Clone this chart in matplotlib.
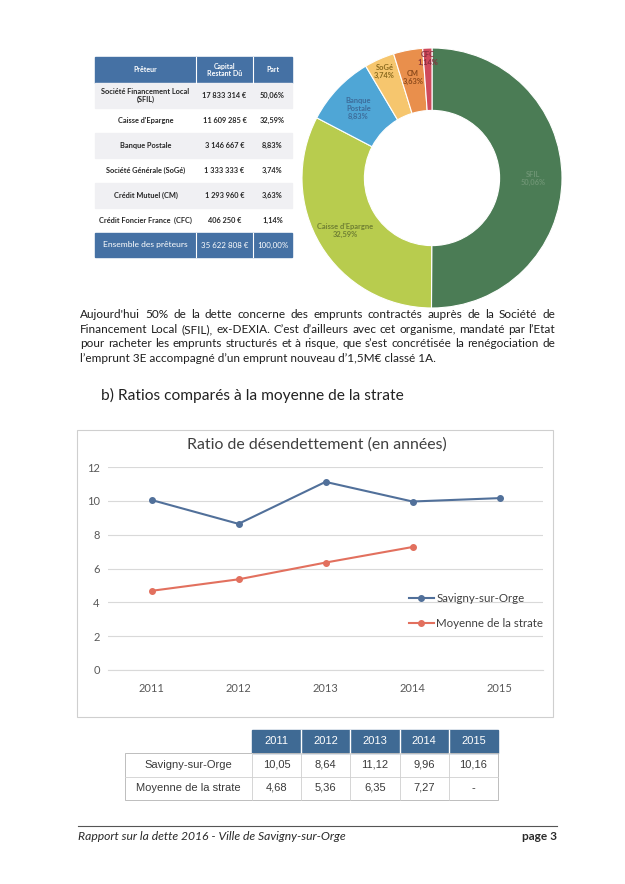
import matplotlib
matplotlib.use("Agg")
import matplotlib.pyplot as plt
from matplotlib.patches import Rectangle
import numpy as np

W, H = 625, 884
plt.rcParams['font.family'] = ['Lato', 'DejaVu Sans']

# --- data: top table / donut
preteurs = ["Société Financement Local\n(SFIL)", "Caisse d'Epargne", "Banque Postale",
            "Société Générale (SoGé)", "Crédit Mutuel (CM)", "Crédit Foncier France  (CFC)"]
capital = [17833314, 11609285, 3146667, 1333333, 1293960, 406250]
parts = [50.06, 32.59, 8.83, 3.74, 3.63, 1.14]
total_capital = 35622808
total_part = 100.00
donut_labels = ["SFIL", "Caisse d'Epargne", "Banque\nPostale", "SoGé", "CM", "CFC"]

# --- data: ratio de desendettement
annees = ["2011", "2012", "2013", "2014", "2015"]
savigny = [10.05, 8.64, 11.12, 9.96, 10.16]
strate = [4.68, 5.36, 6.35, 7.27, None]

paragraph = [
    "Aujourd'hui 50% de la dette concerne des emprunts contractés auprès de la Société de",
    "Financement Local (SFIL), ex-DEXIA. C’est d’ailleurs avec cet organisme, mandaté par l’Etat",
    "pour racheter les emprunts structurés et à risque, que s’est concrétisée la renégociation de",
    "l’emprunt 3E accompagné d’un emprunt nouveau d’1,5M€ classé 1A.",
]


def euro(v):
    return f"{v:,}".replace(",", " ") + " €"


def pct(v):
    return f"{v:.2f}".replace(".", ",") + "%"


def dec(v):
    return "-" if v is None else f"{v:.2f}".replace(".", ",")


fig = plt.figure(figsize=(W / 100, H / 100), dpi=100)
fig.patch.set_facecolor("white")
page = fig.add_axes([0, 0, 1, 1])
page.set_xlim(0, W)
page.set_ylim(H, 0)
page.axis("off")
renderer = fig.canvas.get_renderer()


def box(x0, y0, x1, y1):
    return [x0 / W, 1 - y1 / H, (x1 - x0) / W, (y1 - y0) / H]


def twidth(t):
    return t.get_window_extent(renderer).width


def fit(x, y, s, width, ha="left", **kw):
    # size the text so it covers the same width as on the scan
    t = page.text(x, y, s, fontsize=10, ha=ha, va="center", **kw)
    t.set_fontsize(10 * width / twidth(t))
    return t


def justify(line, x0, x1, y, fs):
    words = line.split()
    ts = [page.text(x0, y, w, fontsize=fs, va="center", color="#1e1e1e") for w in words]
    ws = [twidth(t) for t in ts]
    gap = (x1 - x0 - sum(ws)) / (len(ws) - 1)
    x = x0
    for t, w in zip(ts, ws):
        t.set_x(x)
        x += w + gap


# --- top table
blue = "#4571a4"
cols = [95, 196, 253, 292]
page.add_patch(Rectangle((95, 57), 197, 26, color=blue))
for cx in cols[1:-1]:
    page.plot([cx, cx], [57, 83], color="white", lw=0.8)
heads = ["Prêteur", "Capital\nRestant Dû", "Part"]
for i, h in enumerate(heads):
    page.text((cols[i] + cols[i + 1]) / 2, 70, h, ha="center", va="center",
              fontsize=5.0, color="white", fontweight="bold", linespacing=1.1)
row_h = 25
for r, (p, c, pa) in enumerate(zip(preteurs, capital, parts)):
    y0 = 83 + r * row_h
    if r % 2 == 0:
        page.add_patch(Rectangle((95, y0), 197, row_h, color="#f0f0f3"))
    yc = y0 + row_h / 2
    vals = [p, euro(c), pct(pa)]
    for i, v in enumerate(vals):
        page.text((cols[i] + cols[i + 1]) / 2, yc, v, ha="center", va="center",
                  fontsize=5.3, color="#262626", fontweight="bold", linespacing=1.1)
y0 = 83 + 6 * row_h
page.add_patch(Rectangle((95, y0), 197, 24, color=blue))
for cx in cols[1:-1]:
    page.plot([cx, cx], [y0, y0 + 24], color="white", lw=0.8)
tot = ["Ensemble des prêteurs", euro(total_capital), pct(total_part)]
for i, v in enumerate(tot):
    page.text((cols[i] + cols[i + 1]) / 2, y0 + 12, v, ha="center", va="center",
              fontsize=6.1 if i == 0 else 5.7, color="white")

# --- donut
donut_colors = ["#4b7c55", "#b8cc4e", "#4fa6d6", "#f6c66e", "#e98f4c", "#cf4a5c"]
label_colors = ["#6d9473", "#6f7f33", "#3d6d9b", "#8a6a1e", "#8c4a1c", "#8a2e3e"]
label_r = [0.78, 0.78, 0.78, 0.9, 0.79, 0.92]
dax = fig.add_axes(box(302, 48, 562, 308))
wedges, _ = dax.pie(parts, colors=donut_colors, startangle=90, counterclock=False,
                    radius=1, wedgeprops=dict(width=0.48, edgecolor="white", linewidth=0.8))
dax.set_xlim(-1, 1)
dax.set_ylim(-1, 1)
for w, lab, p, r, c in zip(wedges, donut_labels, parts, label_r, label_colors):
    a = np.deg2rad((w.theta1 + w.theta2) / 2)
    dax.text(r * np.cos(a), r * np.sin(a), f"{lab}\n{pct(p)}", ha="center", va="center",
             fontsize=5.4, color=c, fontweight="bold", linespacing=1.15)

# --- paragraph + heading
t4 = fit(80, 358, paragraph[3], 353, color="#1e1e1e")
fs = t4.get_fontsize()
for k, line in enumerate(paragraph[:3]):
    justify(line, 80, 555, 315 + k * 14.3, fs)
fit(101, 395, "b) Ratios comparés à la moyenne de la strate", 302, color="#222222")

# --- line chart
page.add_patch(Rectangle((77, 430), 476, 287, fill=False, ec="#cfcfcf", lw=0.8))
fit(317, 445, "Ratio de désendettement (en années)", 259, ha="center", color="#404040")
cax = fig.add_axes(box(108, 467, 543, 670))
x = np.arange(len(annees))
strate_y = [np.nan if v is None else v for v in strate]
cax.plot(x, savigny, color="#51709a", lw=1.5, marker="o", ms=4, label="Savigny-sur-Orge")
cax.plot(x, strate_y, color="#e2705e", lw=1.5, marker="o", ms=4, label="Moyenne de la strate")
cax.set_xlim(-0.5, 4.5)
cax.set_ylim(0, 12)
cax.set_yticks(range(0, 13, 2))
cax.set_xticks(x, annees)
cax.grid(axis="y", color="#d9d9d9", lw=0.8)
cax.set_axisbelow(True)
for s in ["top", "right", "left"]:
    cax.spines[s].set_visible(False)
cax.spines["bottom"].set_color("#d9d9d9")
cax.tick_params(length=0, labelsize=8, colors="#595959")
cax.tick_params(axis="y", pad=6)
cax.tick_params(axis="x", pad=9)
cax.patch.set_alpha(0)
cax.legend(loc="upper left", bbox_to_anchor=(404 / W, 1 - 588 / H), bbox_transform=fig.transFigure,
           frameon=False, fontsize=8.3, handlelength=2.2, handletextpad=0.2, labelspacing=1.25,
           labelcolor="#404040", borderaxespad=0)

# --- bottom table
tcols = [125, 252] + [252 + 49.2 * (i + 1) for i in range(5)]
hdr = "#3f6a94"
page.add_patch(Rectangle((252, 730), tcols[-1] - 252, 23, color=hdr))
for i, a in enumerate(annees):
    if i > 0:
        page.plot([tcols[i + 1], tcols[i + 1]], [730, 753], color="white", lw=1)
    page.text((tcols[i + 1] + tcols[i + 2]) / 2, 741.5, a, ha="center", va="center",
              fontsize=8, color="white", family="Liberation Sans")
page.add_patch(Rectangle((125, 753), tcols[-1] - 125, 47, fill=False, ec="#bdbdbd", lw=0.7))
page.plot([125, tcols[-1]], [776.5, 776.5], color="#d0d0d0", lw=0.6)
for cx in tcols[1:-1]:
    page.plot([cx, cx], [753, 800], color="#cfcfcf", lw=0.6)
rows = [("Savigny-sur-Orge", savigny), ("Moyenne de la strate", strate)]
for r, (name, vals) in enumerate(rows):
    yc = 764.5 + r * 23.5
    page.text((tcols[0] + tcols[1]) / 2, yc, name, ha="center", va="center",
              fontsize=8, color="#3a3a3a", family="Liberation Sans")
    for i, v in enumerate(vals):
        page.text((tcols[i + 1] + tcols[i + 2]) / 2, yc, dec(v), ha="center", va="center",
                  fontsize=8, color="#3a3a3a", family="Liberation Sans")

# --- footer
page.plot([78, 557], [826, 826], color="#555555", lw=0.8)
fit(78, 836, "Rapport sur la dette 2016 - Ville de Savigny-sur-Orge", 269,
    color="#2a2a2a", style="italic")
fit(557, 837, "page 3", 35, ha="right", color="#2a2a2a", fontweight="bold")

fig.savefig("out.png", dpi=100, facecolor="white")
